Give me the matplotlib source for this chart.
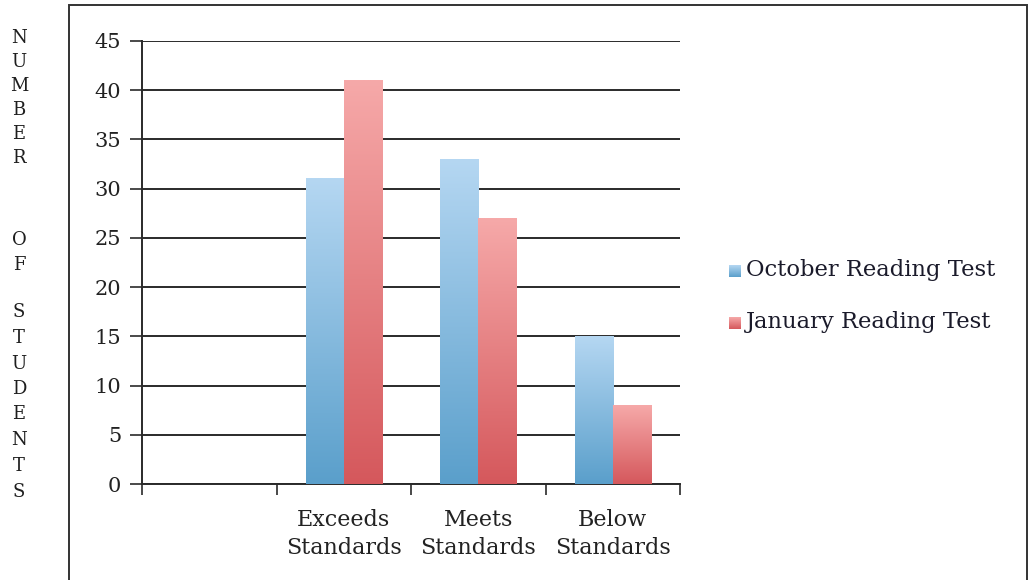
import matplotlib
matplotlib.use('Agg')
import matplotlib.pyplot as plt
from matplotlib.patches import Rectangle
from matplotlib.colors import LinearSegmentedColormap
import numpy as np

categories = ['', 'Exceeds\nStandards', 'Meets\nStandards', 'Below\nStandards']
october = [0, 31, 33, 15]
january = [0, 41, 27, 8]
series_names = ['October Reading Test', 'January Reading Test']
y_ticks = [0, 5, 10, 15, 20, 25, 30, 35, 40, 45]

# letters of the side label and their heights (figure pixels from top)
side_letters = list('NUMBER') + list('OF') + list('STUDENTS')
side_rows = [38, 62, 86, 110, 134, 158, 240, 265,
             312, 338, 364, 389, 414, 440, 466, 492]

plt.rcParams['font.family'] = ['DejaVu Serif']
W, H = 1029, 580
fig = plt.figure(figsize=(W / 100, H / 100), dpi=100)
ax = fig.add_axes([142 / W, 1 - 484 / H, (680 - 142) / W, (484 - 41) / H])

blue_map = LinearSegmentedColormap.from_list('b', ['#5a9fcb', '#b5d7f2'])
red_map = LinearSegmentedColormap.from_list('r', ['#d5585c', '#f6a9a9'])

x = np.arange(len(categories))
w = 0.283
bars_o = ax.bar(x - w / 2, october, w, color='#8cbfe2', zorder=2)
bars_j = ax.bar(x + w / 2, january, w, color='#ea8486', zorder=2)

grad = np.linspace(0, 1, 256).reshape(-1, 1)
for bars, cmap in [(bars_o, blue_map), (bars_j, red_map)]:
    for b in bars:
        if b.get_height() <= 0:
            continue
        bx, by = b.get_x(), b.get_y()
        ax.imshow(grad, cmap=cmap, origin='lower', aspect='auto', zorder=3,
                  extent=[bx, bx + b.get_width(), by, by + b.get_height()])

ax.set_xlim(-0.5, len(categories) - 0.5)
ax.set_ylim(0, 45)

ax.set_yticks(y_ticks)
ax.set_yticklabels([str(v) for v in y_ticks], fontsize=15, color='#222222')
ax.yaxis.grid(True, color='#2a2a2a', linewidth=1.4, zorder=1)
ax.set_axisbelow(True)
ax.tick_params(axis='y', length=9, width=1.2, pad=6, color='#2a2a2a')

ax.set_xticks(np.arange(len(categories) + 1) - 0.5)
ax.set_xticklabels([])
ax.set_xticks(x, minor=True)
ax.set_xticklabels(categories, minor=True, fontsize=16, color='#222222',
                   linespacing=1.35)
ax.tick_params(axis='x', which='major', length=8, width=1.2, color='#2a2a2a')
ax.tick_params(axis='x', which='minor', length=0, pad=18)

for s in ['top', 'right']:
    ax.spines[s].set_visible(False)
ax.spines['left'].set_color('#2a2a2a')
ax.spines['left'].set_linewidth(1.4)
ax.spines['bottom'].set_color('#2a2a2a')
ax.spines['bottom'].set_linewidth(1.4)

# legend: small shaded squares with series names
leg_rows = [270, 322]
for name, row, cmap in zip(series_names, leg_rows, [blue_map, red_map]):
    lx = fig.add_axes([729 / W, 1 - (row + 7) / H, 12 / W, 12 / H])
    lx.imshow(grad, cmap=cmap, origin='lower', aspect='auto')
    lx.set_xticks([])
    lx.set_yticks([])
    for s in lx.spines.values():
        s.set_visible(False)
    fig.text(746 / W, 1 - row / H, name, fontsize=16.3, color='#1a1a2a',
             va='center', ha='left')

for letter, row in zip(side_letters, side_rows):
    fig.text(19 / W, 1 - row / H, letter, fontsize=13, color='#1e1e1e',
             ha='center', va='center')

# outer frame round the chart
fig.add_artist(Rectangle((69 / W, -0.05), (1027 - 69) / W, 1 - 5 / H + 0.05,
                         transform=fig.transFigure, fill=False,
                         edgecolor='#333333', linewidth=1.4))

fig.savefig('out.png', dpi=100)
